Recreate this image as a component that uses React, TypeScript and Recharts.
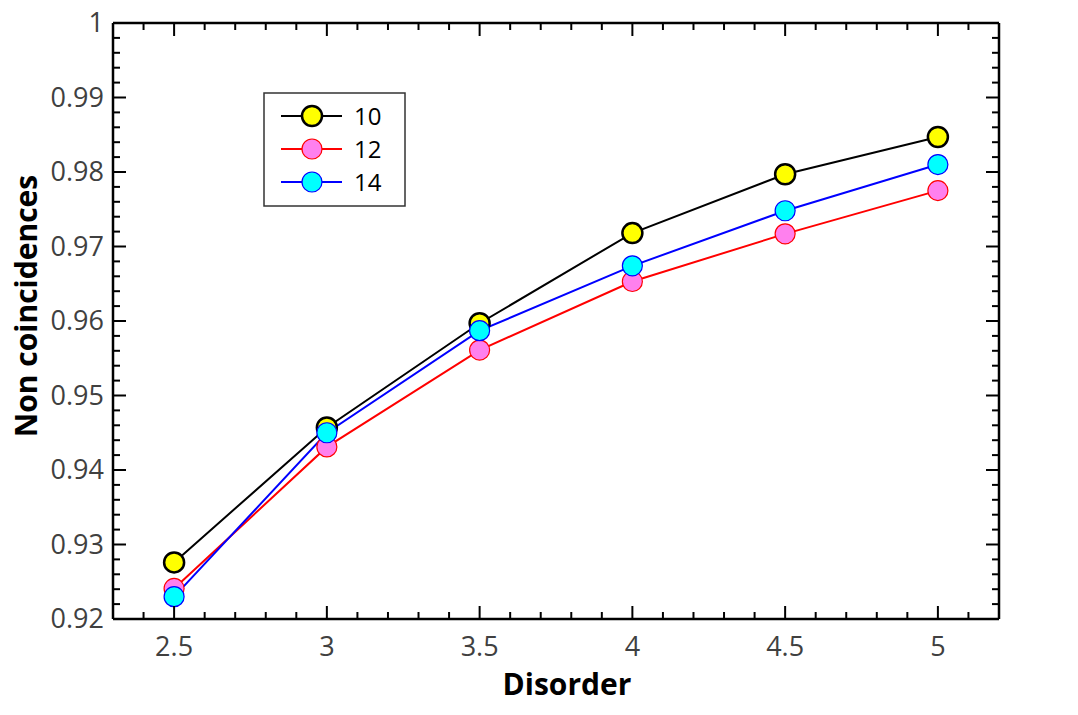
import { LineChart, Line, XAxis, YAxis } from "recharts";

const disorder = [2.5, 3, 3.5, 4, 4.5, 5];
const size10 = [0.9276, 0.9457, 0.9597, 0.9718, 0.9797, 0.9847];
const size12 = [0.9241, 0.9431, 0.9561, 0.9653, 0.9717, 0.9775];
const size14 = [0.9230, 0.9450, 0.9587, 0.9674, 0.9748, 0.9810];

const xMajor = [2.5, 3, 3.5, 4, 4.5, 5];
const yMajor = [0.92, 0.93, 0.94, 0.95, 0.96, 0.97, 0.98, 0.99, 1];
const yLabels = ["0.92", "0.93", "0.94", "0.95", "0.96", "0.97", "0.98", "0.99", "1"];

// minor tick positions (every 0.1 on x, every 0.002 on y)
const xTicks: number[] = [];
for (let i = 0; i <= 29; i++) xTicks.push(Math.round((2.3 + i * 0.1) * 10) / 10);
const yTicks: number[] = [];
for (let i = 0; i <= 40; i++) yTicks.push(Math.round((0.92 + i * 0.002) * 1000) / 1000);

const series = [
  { key: "s10", name: "10", stroke: "#000000", fill: "#ffff00", width: 2, dotStroke: 2.5 },
  { key: "s12", name: "12", stroke: "#ff0000", fill: "#ff80ee", width: 2, dotStroke: 1.2 },
  { key: "s14", name: "14", stroke: "#0000ff", fill: "#00ffff", width: 2, dotStroke: 1.2 },
];

const data = disorder.map((x, i) => ({
  x,
  s10: size10[i],
  s12: size12[i],
  s14: size14[i],
}));

const FONT = "'Open Sans', sans-serif";
const isMajorX = (v: number) => xMajor.some((m) => Math.abs(m - v) < 1e-6);
const isMajorY = (v: number) => yMajor.some((m) => Math.abs(m - v) < 1e-6);

const BottomTick = (props: any) => {
  const { x, y, payload } = props;
  const major = isMajorX(payload.value);
  return (
    <g>
      <line x1={x} x2={x} y1={y} y2={y - (major ? 13 : 7)} stroke="#000" strokeWidth={2} />
      {major && (
        <text x={x} y={y + 37} textAnchor="middle" fontSize={27} fontFamily={FONT} fill="#404040">
          {payload.value}
        </text>
      )}
    </g>
  );
};

const TopTick = (props: any) => {
  const { x, y, payload } = props;
  const major = isMajorX(payload.value);
  return <line x1={x} x2={x} y1={y} y2={y + (major ? 13 : 7)} stroke="#000" strokeWidth={2} />;
};

const LeftTick = (props: any) => {
  const { x, y, payload } = props;
  const major = isMajorY(payload.value);
  const idx = yMajor.findIndex((m) => Math.abs(m - payload.value) < 1e-6);
  return (
    <g>
      <line x1={x} x2={x + (major ? 13 : 7)} y1={y} y2={y} stroke="#000" strokeWidth={2} />
      {major && (
        <text x={x - 9} y={y + 9} textAnchor="end" fontSize={27} fontFamily={FONT} fill="#404040">
          {yLabels[idx]}
        </text>
      )}
    </g>
  );
};

const RightTick = (props: any) => {
  const { x, y, payload } = props;
  const major = isMajorY(payload.value);
  return <line x1={x} x2={x - (major ? 13 : 7)} y1={y} y2={y} stroke="#000" strokeWidth={2} />;
};

const LegendBox = () => (
  <svg width={143} height={115} style={{ position: "absolute", left: 263, top: 92 }}>
    <rect x={1} y={1} width={141} height={113} fill="#fff" stroke="#333" strokeWidth={1.5} />
    {series.map((s, i) => (
      <g key={s.key}>
        <line x1={18} x2={79} y1={24 + i * 33} y2={24 + i * 33} stroke={s.stroke} strokeWidth={s.width} />
        <circle cx={49} cy={24 + i * 33} r={10} fill={s.fill} stroke={s.stroke} strokeWidth={s.dotStroke} />
        <text x={91} y={33 + i * 33} fontSize={24} fontFamily={FONT} fill="#000">
          {s.name}
        </text>
      </g>
    ))}
  </svg>
);

export default function App() {
  return (
    <div style={{ position: "absolute", left: 0, top: 0, width: 1078, height: 715, background: "#fff" }}>
      <LineChart width={1078} height={715} data={data} margin={{ top: 22, right: 0, bottom: 0, left: 0 }}>
        <XAxis
          xAxisId="b"
          dataKey="x"
          type="number"
          domain={[2.3, 5.2]}
          allowDataOverflow
          ticks={xTicks}
          interval={0}
          tickSize={0}
          tickMargin={0}
          tickLine={false}
          tick={<BottomTick />}
          axisLine={{ stroke: "#000", strokeWidth: 2.5 }}
          height={96}
        />
        <XAxis
          xAxisId="t"
          orientation="top"
          dataKey="x"
          type="number"
          domain={[2.3, 5.2]}
          allowDataOverflow
          ticks={xTicks}
          interval={0}
          tickSize={0}
          tickMargin={0}
          tickLine={false}
          tick={<TopTick />}
          axisLine={{ stroke: "#000", strokeWidth: 2.5 }}
          height={1}
        />
        <YAxis
          yAxisId="l"
          type="number"
          domain={[0.92, 1]}
          allowDataOverflow
          ticks={yTicks}
          interval={0}
          tickSize={0}
          tickMargin={0}
          tickLine={false}
          tick={<LeftTick />}
          axisLine={{ stroke: "#000", strokeWidth: 2.5 }}
          width={113}
        />
        <YAxis
          yAxisId="r"
          orientation="right"
          type="number"
          domain={[0.92, 1]}
          allowDataOverflow
          ticks={yTicks}
          interval={0}
          tickSize={0}
          tickMargin={0}
          tickLine={false}
          tick={<RightTick />}
          axisLine={{ stroke: "#000", strokeWidth: 2.5 }}
          width={79}
        />
        {/* invisible series so the frame axes get a scale */}
        <Line
          xAxisId="t"
          yAxisId="r"
          dataKey="s10"
          stroke="none"
          dot={false}
          activeDot={false}
          legendType="none"
          isAnimationActive={false}
        />
        {series.map((s) => (
          <Line
            key={s.key}
            xAxisId="b"
            yAxisId="l"
            dataKey={s.key}
            name={s.name}
            type="linear"
            stroke={s.stroke}
            strokeWidth={s.width}
            dot={{ r: 10, fill: s.fill, stroke: s.stroke, strokeWidth: s.dotStroke }}
            activeDot={false}
            isAnimationActive={false}
          />
        ))}
        <text x={567} y={695} textAnchor="middle" fontSize={30} fontWeight="bold" fontFamily={FONT} fill="#000">
          Disorder
        </text>
        <text
          x={37}
          y={306}
          textAnchor="middle"
          fontSize={30}
          fontWeight="bold"
          fontFamily={FONT}
          fill="#000"
          transform="rotate(-90 37 306)"
        >
          Non coincidences
        </text>
      </LineChart>
      <LegendBox />
    </div>
  );
}
